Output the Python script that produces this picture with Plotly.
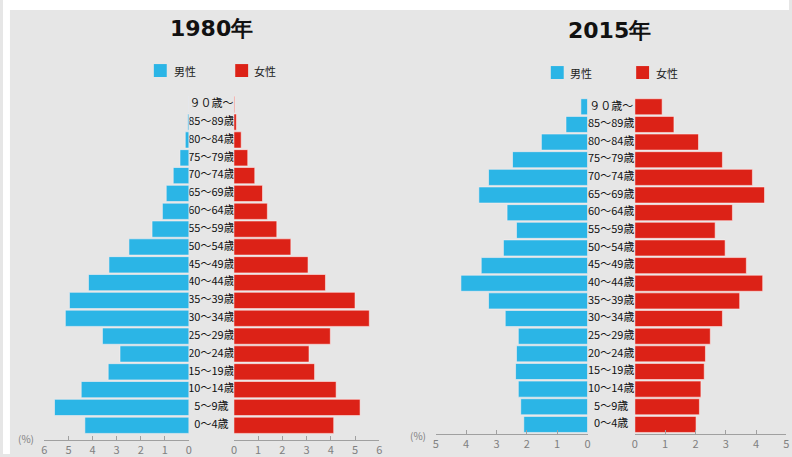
import plotly.graph_objects as go

ages = ["0～4歳", "5～9歳", "10～14歳", "15～19歳", "20～24歳", "25～29歳", "30～34歳",
        "35～39歳", "40～44歳", "45～49歳", "50～54歳", "55～59歳", "60～64歳", "65～69歳",
        "70～74歳", "75～79歳", "80～84歳", "85～89歳", "９０歳～"]

male_1980 = [4.32, 5.58, 4.47, 3.35, 2.86, 3.59, 5.13, 4.96, 4.17, 3.32, 2.49, 1.53,
             1.10, 0.94, 0.65, 0.37, 0.15, 0.05, 0.01]
female_1980 = [4.12, 5.21, 4.22, 3.33, 3.10, 3.98, 5.59, 5.00, 3.78, 3.06, 2.35, 1.77,
               1.38, 1.18, 0.86, 0.57, 0.30, 0.10, 0.03]
male_2015 = [2.10, 2.20, 2.28, 2.37, 2.34, 2.28, 2.71, 3.26, 4.17, 3.50, 2.77, 2.34,
             2.65, 3.58, 3.26, 2.47, 1.52, 0.71, 0.22]
female_2015 = [2.02, 2.13, 2.18, 2.29, 2.33, 2.49, 2.89, 3.46, 4.22, 3.68, 2.98, 2.65,
               3.22, 4.28, 3.88, 2.89, 2.10, 1.29, 0.90]

titles = ["1980年", "2015年"]
legend_names = ["男性", "女性"]
ticks_1980 = [0, 1, 2, 3, 4, 5, 6]
ticks_2015 = [0, 1, 2, 3, 4, 5]

BLUE = "#2bb5e6"
RED = "#dc2217"
BG = "#e6e6e6"
W, H = 792, 457
FONT = "Noto Sans CJK JP"


def px(x):
    return x / W


def py(y):
    return 1 - y / H


fig = go.Figure()
bar_kw = dict(orientation="h", hoverinfo="x+y", showlegend=False)
edge = dict(width=0.8, color="rgba(255,240,240,0.7)")
fig.add_trace(go.Bar(x=male_1980, y=ages, marker=dict(color=BLUE, line=edge),
                     xaxis="x", yaxis="y", name=legend_names[0], **bar_kw))
fig.add_trace(go.Bar(x=female_1980, y=ages, marker=dict(color=RED, line=edge),
                     xaxis="x2", yaxis="y", name=legend_names[1], **bar_kw))
fig.add_trace(go.Bar(x=male_2015, y=ages, marker=dict(color=BLUE, line=edge),
                     xaxis="x3", yaxis="y2", name=legend_names[0], **bar_kw))
fig.add_trace(go.Bar(x=female_2015, y=ages, marker=dict(color=RED, line=edge),
                     xaxis="x4", yaxis="y2", name=legend_names[1], **bar_kw))

# age labels, clipped to the gap between the halves
lab_font = dict(size=11, color="#111", family=FONT)
fig.add_trace(go.Scatter(x=[0.5] * len(ages), y=ages, text=ages, mode="text",
                         textfont=lab_font, cliponaxis=True, hoverinfo="skip",
                         showlegend=False, xaxis="x5", yaxis="y"))
fig.add_trace(go.Scatter(x=[0.5] * len(ages), y=ages, text=ages, mode="text",
                         textfont=lab_font, cliponaxis=True, hoverinfo="skip",
                         showlegend=False, xaxis="x6", yaxis="y2"))

xax = dict(showline=True, linecolor="#a0a0a0", linewidth=1, ticks="inside", ticklen=4,
           tickcolor="#a0a0a0", tickfont=dict(size=11, color="#808080", family=FONT),
           showgrid=False, zeroline=False, fixedrange=True, tickmode="array")
gapax = dict(range=[0, 1], visible=False, fixedrange=True, showgrid=False, zeroline=False)
yax = dict(type="category", categoryorder="array", categoryarray=ages, visible=False,
           showgrid=False, fixedrange=True)

fig.update_layout(
    width=W, height=H, margin=dict(l=0, r=0, t=0, b=0),
    paper_bgcolor=BG, plot_bgcolor="rgba(0,0,0,0)",
    bargap=0.09, font=dict(family=FONT, color="black"),
    xaxis=dict(domain=[px(41.7), px(187.3)], range=[6, 0], anchor="y",
               tickvals=ticks_1980, **xax),
    xaxis2=dict(domain=[px(232.7), px(379.1)], range=[0, 6], anchor="y",
                tickvals=ticks_1980, **xax),
    xaxis3=dict(domain=[px(436.0), px(589.0)], range=[5, 0], anchor="y2",
                tickvals=ticks_2015, **xax),
    xaxis4=dict(domain=[px(636.7), px(789.3)], range=[0, 5], anchor="y2",
                tickvals=ticks_2015, **xax),
    xaxis5=dict(domain=[px(187.8), px(232.2)], anchor="y", **gapax),
    xaxis6=dict(domain=[px(589.5), px(636.2)], anchor="y2", **gapax),
    yaxis=dict(domain=[py(443), py(96)], range=[-0.83, 18.5], **yax),
    yaxis2=dict(domain=[py(437), py(98.6)], range=[-0.55, 18.5], **yax),
)

shapes = [
    dict(type="rect", xref="paper", yref="paper", x0=0, x1=1, y0=py(10), y1=1,
         fillcolor="white", line=dict(width=0), layer="below"),
    dict(type="rect", xref="paper", yref="paper", x0=0, x1=px(7), y0=0, y1=1,
         fillcolor="white", line=dict(width=0), layer="below"),
]
annotations = []

# titles
for t, cx, cy in [(titles[0], 210, 29), (titles[1], 611, 31)]:
    annotations.append(dict(text="<b>%s</b>" % t, x=px(cx), y=py(cy), xref="paper", yref="paper",
                            showarrow=False, font=dict(size=22, family="DejaVu Sans", color="#111"),
                            xanchor="center", yanchor="middle"))

# legends
for (bx, tx, cy, col, name) in [(152, 170, 71, BLUE, legend_names[0]),
                                (234, 251, 71, RED, legend_names[1]),
                                (552, 569, 73, BLUE, legend_names[0]),
                                (638, 656, 73, RED, legend_names[1])]:
    shapes.append(dict(type="rect", xref="paper", yref="paper", x0=px(bx), x1=px(bx + 13),
                       y0=py(cy + 6.5), y1=py(cy - 6.5), fillcolor=col, line=dict(width=0)))
    annotations.append(dict(text=name, x=px(tx), y=py(cy), xref="paper", yref="paper",
                            showarrow=False, xanchor="left", yanchor="middle",
                            font=dict(size=11, color="#222")))

# (%) labels
for cx, cy in [(23, 441), (418, 438)]:
    annotations.append(dict(text="(%)", x=px(cx), y=py(cy), xref="paper", yref="paper",
                            showarrow=False, xanchor="center", yanchor="middle",
                            font=dict(size=10, color="#808080")))

fig.update_layout(shapes=shapes, annotations=annotations)
fig.write_html("out.html", config={"displayModeBar": False},
               post_script="document.body.style.margin='0';document.body.style.overflow='hidden';"
                           "document.body.style.background='" + BG + "';")
